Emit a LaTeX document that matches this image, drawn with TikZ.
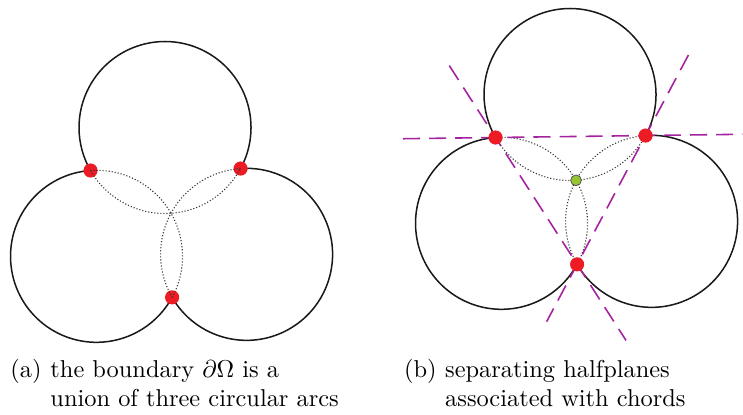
\documentclass[tikz,border=0pt]{standalone}
\usetikzlibrary{calc}
\definecolor{dotred}{RGB}{237,28,36}
\definecolor{dotgreen}{RGB}{150,196,50}
\definecolor{chordmag}{RGB}{165,35,160}
\begin{document}
\begin{tikzpicture}[x=0.41pt,y=0.41pt,
  outline/.style={line width=0.62pt, black!90},
  innerarc/.style={line width=0.45pt, black!80, dash pattern=on 0.45pt off 0.8pt},
  chord/.style={line width=0.65pt, chordmag, dash pattern=on 7pt off 3.7pt},
  reddot/.style={circle, fill=dotred, inner sep=0pt, minimum size=5.8pt},
  greendot/.style={circle, fill=dotgreen, draw=black!70, line width=0.3pt, minimum size=4.4pt, inner sep=0pt},
  captext/.style={inner sep=0pt, anchor=base west}]
\useasboundingbox (0,0) rectangle (743,414);

% ---------- panel (a) ----------
\coordinate (aP) at (171,200.7);
\coordinate (aC1) at ($(aP)+(94:86)$);
\coordinate (aC2) at ($(aP)+(210:86)$);
\coordinate (aC3) at ($(aP)+(331.5:86)$);
\coordinate (aR12) at ($(aC1)+(210:86)$);
\coordinate (aR13) at ($(aC1)+(331.5:86)$);
\coordinate (aR23) at ($(aC2)+(331.5:86)$);
\draw[outline] (aR13) arc[start angle=-28.5, end angle=210, radius=86];
\draw[outline] (aR12) arc[start angle=94, end angle=331.5, radius=86];
\draw[outline] (aR23) arc[start angle=210, end angle=454, radius=86];
\node[reddot] (aD12) at (aR12) {};
\node[reddot] (aD13) at (aR13) {};
\node[reddot] (aD23) at (aR23) {};
\draw[innerarc] (aR12) arc[start angle=210, end angle=331.5, radius=86];
\draw[innerarc] (aR23) arc[start angle=331.5, end angle=454, radius=86];
\draw[innerarc] (aR13) arc[start angle=94, end angle=210, radius=86];

% ---------- panel (b) ----------
\begin{scope}[shift={(405,33)}]
\coordinate (bP) at (171,200.7);
\coordinate (bC1) at ($(bP)+(94:86)$);
\coordinate (bC2) at ($(bP)+(210:86)$);
\coordinate (bC3) at ($(bP)+(331.5:86)$);
\coordinate (bR12) at ($(bC1)+(210:86)$);
\coordinate (bR13) at ($(bC1)+(331.5:86)$);
\coordinate (bR23) at ($(bC2)+(331.5:86)$);
\draw[outline] (bR13) arc[start angle=-28.5, end angle=210, radius=86];
\draw[outline] (bR12) arc[start angle=94, end angle=331.5, radius=86];
\draw[outline] (bR23) arc[start angle=210, end angle=454, radius=86];
\draw[innerarc] (bR12) arc[start angle=210, end angle=331.5, radius=86];
\draw[innerarc] (bR23) arc[start angle=331.5, end angle=454, radius=86];
\draw[innerarc] (bR13) arc[start angle=94, end angle=210, radius=86];
\end{scope}
\draw[chord] ($(bR12)!-0.617!(bR13)$) -- ($(bR12)!1.645!(bR13)$);
\draw[chord] ($(bR12)!-0.567!(bR23)$) -- ($(bR12)!1.6!(bR23)$);
\draw[chord] ($(bR13)!-0.625!(bR23)$) -- ($(bR13)!1.445!(bR23)$);
\node[reddot] (bD12) at (bR12) {};
\node[reddot] (bD13) at (bR13) {};
\node[reddot] (bD23) at (bR23) {};
\node[greendot] (bDP) at (bP) {};

% ---------- captions ----------
\node[captext] (capa) at (10,37) {(a)};
\node[captext] (capatext) at (50,37) {\begin{tabular}[t]{@{}l@{}}the boundary $\partial\Omega$ is a\\ union of three circular arcs\end{tabular}};
\node[captext] (capb) at (403.7,37) {(b)};
\node[captext] (capbtext) at (444.7,37) {\begin{tabular}[t]{@{}l@{}}separating halfplanes\\ associated with chords\end{tabular}};
\end{tikzpicture}
\end{document}
